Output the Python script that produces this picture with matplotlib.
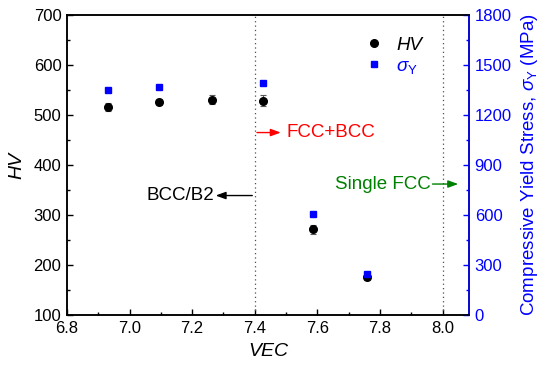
import matplotlib

matplotlib.use("Agg")
import matplotlib.pyplot as plt
from matplotlib.lines import Line2D
from matplotlib.ticker import MultipleLocator

plt.rcParams["font.family"] = ["Liberation Sans", "DejaVu Sans"]
plt.rcParams["mathtext.fontset"] = "custom"
plt.rcParams["mathtext.it"] = "Liberation Sans:italic"
plt.rcParams["mathtext.rm"] = "Liberation Sans"

# data
vec_hv = [6.932, 7.095, 7.264, 7.426, 7.587, 7.758]
hv = [517, 527, 531, 529, 272, 177]
hv_err = [8, 6, 9, 11, 9, 6]
vec_sy = [6.932, 7.095, 7.426, 7.587, 7.758]
sigma_y = [1350, 1366, 1394, 604, 246]

BLUE = "#0000ff"

fig = plt.figure(figsize=(5.5, 3.68), dpi=100)
ax = fig.add_axes([0.1218, 0.144, 0.7312, 0.815])
ax2 = ax.twinx()

ax.errorbar(vec_hv, hv, yerr=hv_err, fmt="o", color="black", ms=5.5,
            ecolor="0.35", elinewidth=0.8, capsize=2.5, capthick=0.8, zorder=3)
ax2.plot(vec_sy, sigma_y, "s", color=BLUE, ms=5, zorder=3)

for xv in [7.4, 8.0]:
    ax.axvline(xv, color="0.3", ls=(0, (1, 2.5)), lw=0.9)

ax.set_xlim(6.8, 8.085)
ax.set_ylim(100, 700)
ax2.set_ylim(0, 1800)

ax.xaxis.set_major_locator(MultipleLocator(0.2))
ax.xaxis.set_minor_locator(MultipleLocator(0.1))
ax.yaxis.set_major_locator(MultipleLocator(100))
ax.yaxis.set_minor_locator(MultipleLocator(50))
ax2.yaxis.set_major_locator(MultipleLocator(300))
ax2.yaxis.set_minor_locator(MultipleLocator(150))
ax.xaxis.set_major_formatter(plt.FormatStrFormatter("%.1f"))

ax.tick_params(axis="both", which="both", direction="in", labelsize=12, pad=4)
ax.tick_params(which="major", length=4, width=1)
ax.tick_params(which="minor", length=2.5, width=1)
ax2.tick_params(axis="y", which="both", direction="in", colors=BLUE, labelsize=12, pad=4)
ax2.tick_params(which="major", length=4, width=1)
ax2.tick_params(which="minor", length=2.5, width=1)

for s in ax.spines.values():
    s.set_linewidth(1.1)
for s in ax2.spines.values():
    s.set_linewidth(1.1)
ax2.spines["right"].set_color(BLUE)

ax.set_xlabel("VEC", fontsize=14, style="italic", labelpad=5)
ax.set_ylabel("HV", fontsize=14, style="italic", labelpad=6)
ax2.set_ylabel(r"Compressive Yield Stress, $\sigma_{\mathrm{Y}}$ (MPa)", fontsize=13.5,
               color=BLUE, labelpad=5)

# phase annotations
arrow = dict(arrowstyle="-|>,head_length=0.6,head_width=0.22", lw=1, shrinkA=0, shrinkB=0)
ax.annotate("", xy=(7.483, 465), xytext=(7.407, 465), arrowprops=dict(arrow, color="red"))
ax.text(7.5, 465, "FCC+BCC", color="red", fontsize=13.5, va="center", ha="left")
ax.annotate("", xy=(7.275, 339), xytext=(7.392, 339), arrowprops=dict(arrow, color="black"))
ax.text(7.27, 339, "BCC/B2", color="black", fontsize=13.5, va="center", ha="right")
ax.annotate("", xy=(8.05, 362), xytext=(7.968, 362), arrowprops=dict(arrow, color="green"))
ax.text(7.963, 362, "Single FCC", color="green", fontsize=13.5, va="center", ha="right")

handles = [Line2D([], [], ls="none", marker="o", color="black", ms=5.5),
           Line2D([], [], ls="none", marker="s", color=BLUE, ms=5)]
leg = ax2.legend(handles, ["HV", r"$\sigma_{\mathrm{Y}}$"], loc="upper right",
                 bbox_to_anchor=(0.925, 0.985), frameon=False, fontsize=13.5,
                 handletextpad=0.7, labelspacing=0.22, handlelength=1.0)
leg.get_texts()[0].set_style("italic")
leg.get_texts()[1].set_color(BLUE)

fig.savefig("out.png", dpi=100)
